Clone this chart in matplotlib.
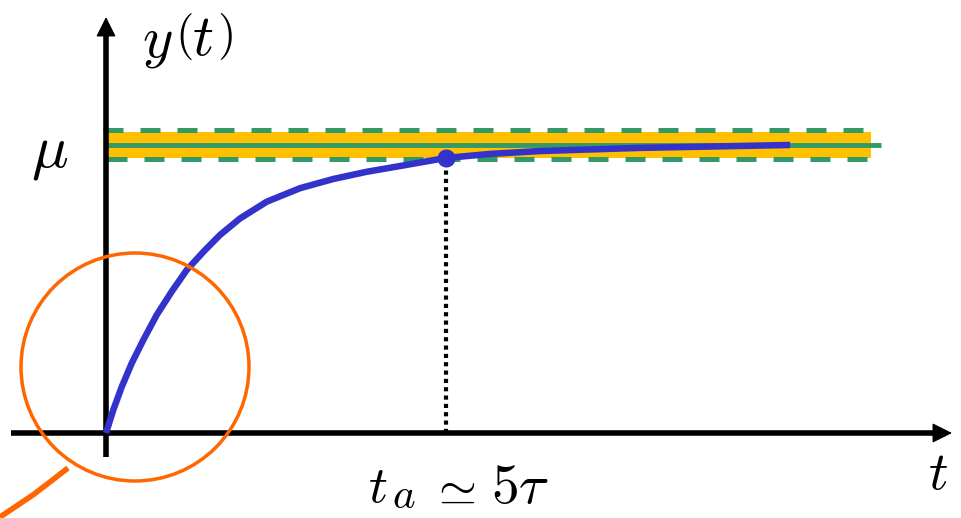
import matplotlib
matplotlib.use("Agg")
import matplotlib.pyplot as plt
from matplotlib.patches import Ellipse

plt.rcParams['mathtext.fontset'] = 'cm'

# Data (t in units of tau, y in units of mu)
t_curve = [0.0, 0.107, 0.231, 0.378, 0.549, 0.746, 0.966, 1.187, 1.456, 1.676,
           1.971, 2.363, 2.853, 3.343, 3.834, 4.324, 5.0, 5.647, 6.382, 7.853,
           8.956, 10.06]
y_curve = [0.0, 0.080, 0.160, 0.242, 0.323, 0.410, 0.491, 0.566, 0.635, 0.6875,
           0.745, 0.803, 0.850, 0.882, 0.907, 0.927, 0.955, 0.969, 0.979, 0.990,
           0.995, 1.0]
mu = 1.0
t_a = 5.0
y_at_ta = 0.955
band_half = 0.045
band_end = 11.25
tol_upper = 1.052
tol_lower = 0.951
tail_t = [-0.559, -0.824, -1.074, -1.56]
tail_y = [-0.1215, -0.170, -0.215, -0.292]

PX_T = 68.0    # pixels per tau
PX_Y = 288.0   # pixels per mu
X0, Y0 = 106, 433

def tx(px):
    return (px - X0) / PX_T

def ty(py):
    return (Y0 - py) / PX_Y

fig = plt.figure(figsize=(9.61, 5.18), dpi=100)
ax = fig.add_axes([0, 0, 1, 1])
ax.set_xlim(tx(0), tx(961))
ax.set_ylim(ty(518), ty(0))
ax.axis('off')

blue = '#3333cc'
orange = '#ff6600'
yellow = '#ffc000'
green = '#339966'

# yellow band
ax.fill_between([0, band_end], mu - band_half, mu + band_half, color=yellow, lw=0, zorder=1)
# green solid and dashed lines
ax.plot([-0.03, 11.4], [mu, mu], color=green, lw=3.5, zorder=2, solid_capstyle='butt')
ax.plot([-0.05, band_end + 0.05], [tol_upper, tol_upper], color=green, lw=3.6,
        dashes=(4.0, 3.4), zorder=2)
ax.plot([0.02, band_end + 0.1], [tol_lower, tol_lower], color=green, lw=3.6,
        dashes=(4.0, 3.4), zorder=2)

# axes arrows
arrow_style = '-|>,head_length=0.4,head_width=0.2'
ax.plot([0, 0], [ty(457), ty(30)], color='black', lw=4, zorder=3, solid_capstyle='butt')
ax.annotate('', xy=(0, ty(17)), xytext=(0, ty(36)),
            arrowprops=dict(arrowstyle=arrow_style, mutation_scale=31, color='black',
                            lw=1, shrinkA=0, shrinkB=0), zorder=3)
ax.plot([tx(11), tx(940)], [0, 0], color='black', lw=4, zorder=3, solid_capstyle='butt')
ax.annotate('', xy=(tx(952), 0), xytext=(tx(933), 0),
            arrowprops=dict(arrowstyle=arrow_style, mutation_scale=31, color='black',
                            lw=1, shrinkA=0, shrinkB=0), zorder=3)

# dotted vertical at t_a
ax.plot([t_a, t_a], [0, y_at_ta], color='black', lw=3, dashes=(1, 1), zorder=3)

# response curve
ax.plot(t_curve, y_curve, color=blue, lw=4.7, zorder=4, solid_capstyle='butt',
        solid_joinstyle='round')
ax.plot([t_a], [y_at_ta], 'o', color=blue, ms=12, zorder=5)

# orange circle and tail
ax.add_patch(Ellipse((tx(135), ty(367)), 2 * 114 / PX_T, 2 * 114 / PX_Y, fill=False,
                     edgecolor=orange, lw=2.5, zorder=4))
ax.plot(tail_t, tail_y, color=orange, lw=4, zorder=4, solid_capstyle='butt',
        solid_joinstyle='round')

# texts
ax.text(tx(157), ty(41), r'$y$', fontsize=42, ha='center', va='center')
ax.text(tx(184), ty(37), r'$($', fontsize=34, ha='center', va='center')
ax.text(tx(203), ty(39), r'$t$', fontsize=42, ha='center', va='center')
ax.text(tx(225), ty(37), r'$)$', fontsize=34, ha='center', va='center')

ax.text(tx(50), ty(152), r'$\mu$', fontsize=44, ha='center', va='center')

ax.text(tx(378), ty(487), r'$t$', fontsize=38, ha='center', va='center')
ax.text(tx(404), ty(496), r'$a$', fontsize=31, ha='center', va='center')
ax.text(tx(453), ty(490), r'$\simeq$', fontsize=35, ha='center', va='center')
ax.text(tx(520), ty(488), r'$5\tau$', fontsize=40, ha='center', va='center')

ax.text(tx(938), ty(474), r'$t$', fontsize=39, ha='center', va='center')

fig.savefig('out.png', dpi=100)
